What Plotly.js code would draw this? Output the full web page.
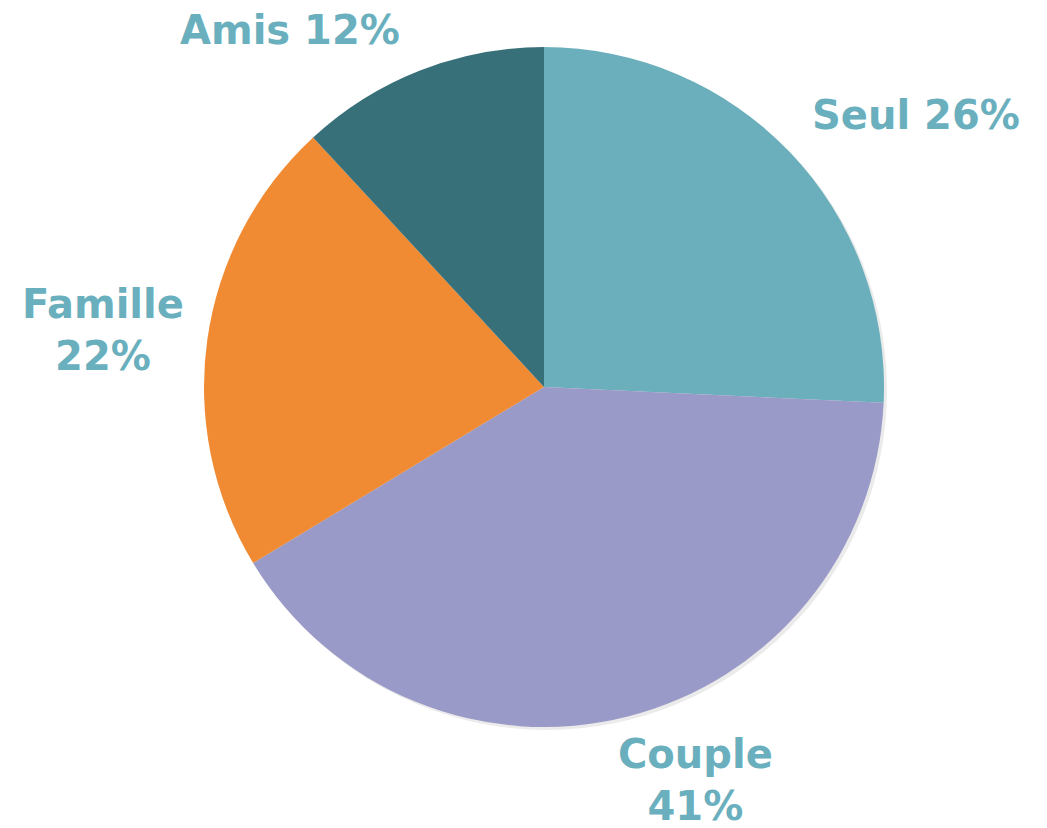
<!DOCTYPE html>
<html>
<head>
<meta charset="utf-8">
<script src="https://cdn.plot.ly/plotly-3.0.1.min.js"></script>
<style>html,body{margin:0;padding:0;background:#fff;}#chart{width:1047px;height:828px;}</style>
</head>
<body>
<div id="chart"></div>
<script>
const categories = ["Seul", "Couple", "Famille", "Amis"];
const values = [26, 41, 22, 12];
const labelTexts = ["Seul 26%", "Couple<br>41%", "Famille<br>22%", "Amis 12%"];
const sliceColors = ["#6CAFBC", "#9A9AC8", "#F08A33", "#38707A"];

// label anchor positions (paper fractions)
const labelX = [0.875, 0.664, 0.098, 0.277];
const labelY = [0.861, 0.058, 0.601, 0.964];

const W = 1047, H = 828;
const cx = 544, cy = 387, r = 340;
const dom = {x: [(cx - r) / W, (cx + r) / W], y: [1 - (cy + r) / H, 1 - (cy - r) / H]};
const shadowDom = {x: [(cx - r + 3) / W, (cx + r + 3) / W], y: [1 - (cy + r + 3) / H, 1 - (cy - r + 3) / H]};

const shadow = {
  type: "pie", values: [1], labels: ["shadow"], domain: shadowDom,
  marker: {colors: ["#ebebeb"], line: {width: 0}},
  textinfo: "none", hoverinfo: "skip", showlegend: false, sort: false
};
const pie = {
  type: "pie", values: values, labels: categories, domain: dom,
  sort: false, direction: "clockwise", rotation: 0,
  marker: {colors: sliceColors, line: {width: 0}},
  textinfo: "none", showlegend: false
};

const annotations = labelTexts.map((t, i) => ({
  text: t, x: labelX[i], y: labelY[i], xref: "paper", yref: "paper",
  xanchor: "center", yanchor: "middle", showarrow: false, align: "center",
  font: {family: "DejaVu Sans", size: 40, color: "#6AAFBD", weight: "bold"}
}));

Plotly.newPlot("chart", [shadow, pie], {
  width: W, height: H, margin: {l: 0, r: 0, t: 0, b: 0},
  paper_bgcolor: "#fff", showlegend: false, annotations: annotations
}, {displayModeBar: false, staticPlot: true});
</script>
</body>
</html>
